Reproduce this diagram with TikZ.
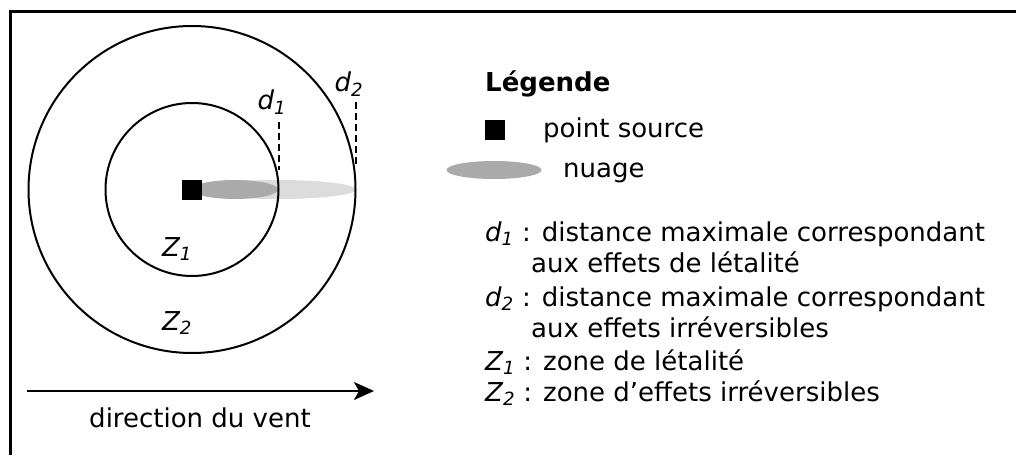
\documentclass[tikz,border=0pt]{standalone}
\usepackage{fontspec}
\setmainfont{DejaVu Sans}
\usetikzlibrary{arrows.meta,shapes.geometric}
\definecolor{cloudDark}{HTML}{AAAAAA}
\definecolor{cloudLight}{HTML}{DCDCDC}
\begin{document}
\begin{tikzpicture}[x=1pt,y=-1pt,
  txt/.style={font=\fontsize{26}{31}\selectfont, inner sep=0pt},
  legtxt/.style={txt, anchor=base west},
  ring/.style={line width=2pt},
  dline/.style={line width=2pt, dash pattern=on 7pt off 4pt}]
\useasboundingbox (0,0) rectangle (1016,455);
\fill[white] (0,0) rectangle (1016,455);
% frame
\draw[line width=3pt] (10,455) -- (10,11) -- (1016,11);
% cloud
\fill[cloudLight] (278,189.5) ellipse [x radius=78, y radius=9.5];
\fill[cloudDark] (235,189.5) ellipse [x radius=43, y radius=9.5];
% source
\node[fill=black, minimum size=20pt, inner sep=0pt] (src) at (192,189.5) {};
% circles
\draw[ring] (192,189.5) circle [radius=86.5];
\draw[ring] (192,189.5) circle [radius=163.5];
% dashed markers
\coordinate (c1) at (278.5,170);
\coordinate (c2) at (355.5,165);
\node[txt] (d1) at (272,102) {\textit{d\textsubscript{1}}};
\node[txt] (d2) at (349,84) {\textit{d\textsubscript{2}}};
\coordinate (t1) at (278.5,122);
\coordinate (t2) at (355.5,102);
\draw[dline] (t1) -- (c1);
\draw[dline] (t2) -- (c2);
% zone labels
\node[txt] (z1) at (177,249) {\textit{Z\textsubscript{1}}};
\node[txt] (z2) at (177,323) {\textit{Z\textsubscript{2}}};
% wind
\coordinate (wa) at (27,391);
\coordinate (wb) at (374,391);
\draw[line width=2pt, -{Stealth[length=20pt,width=18pt,inset=5pt]}] (wa) -- (wb);
\node[txt, anchor=base] (wind) at (200,427) {direction du vent};
% legend
\node[legtxt, font=\fontsize{26}{31}\selectfont\bfseries] (leg) at (485,91) {Légende};
\node[fill=black, minimum size=20pt, inner sep=0pt] (lsq) at (495,130) {};
\node[legtxt] (lsrc) at (543,137) {point source};
\node[fill=cloudDark, ellipse, minimum width=95pt, minimum height=18pt, inner sep=0pt] (lcl) at (494,170) {};
\node[legtxt] (lcltxt) at (563,177) {nuage};
\node[legtxt] (l1) at (485,241) {\textit{d\textsubscript{1}} : distance maximale correspondant};
\node[legtxt] (l1b) at (531,272) {aux effets de létalité};
\node[legtxt] (l2) at (485,306) {\textit{d\textsubscript{2}} : distance maximale correspondant};
\node[legtxt] (l2b) at (531,337) {aux effets irréversibles};
\node[legtxt] (l3) at (485,370) {\textit{Z\textsubscript{1}} : zone de létalité};
\node[legtxt] (l4) at (485,401) {\textit{Z\textsubscript{2}} : zone d’effets irréversibles};
\end{tikzpicture}
\end{document}
